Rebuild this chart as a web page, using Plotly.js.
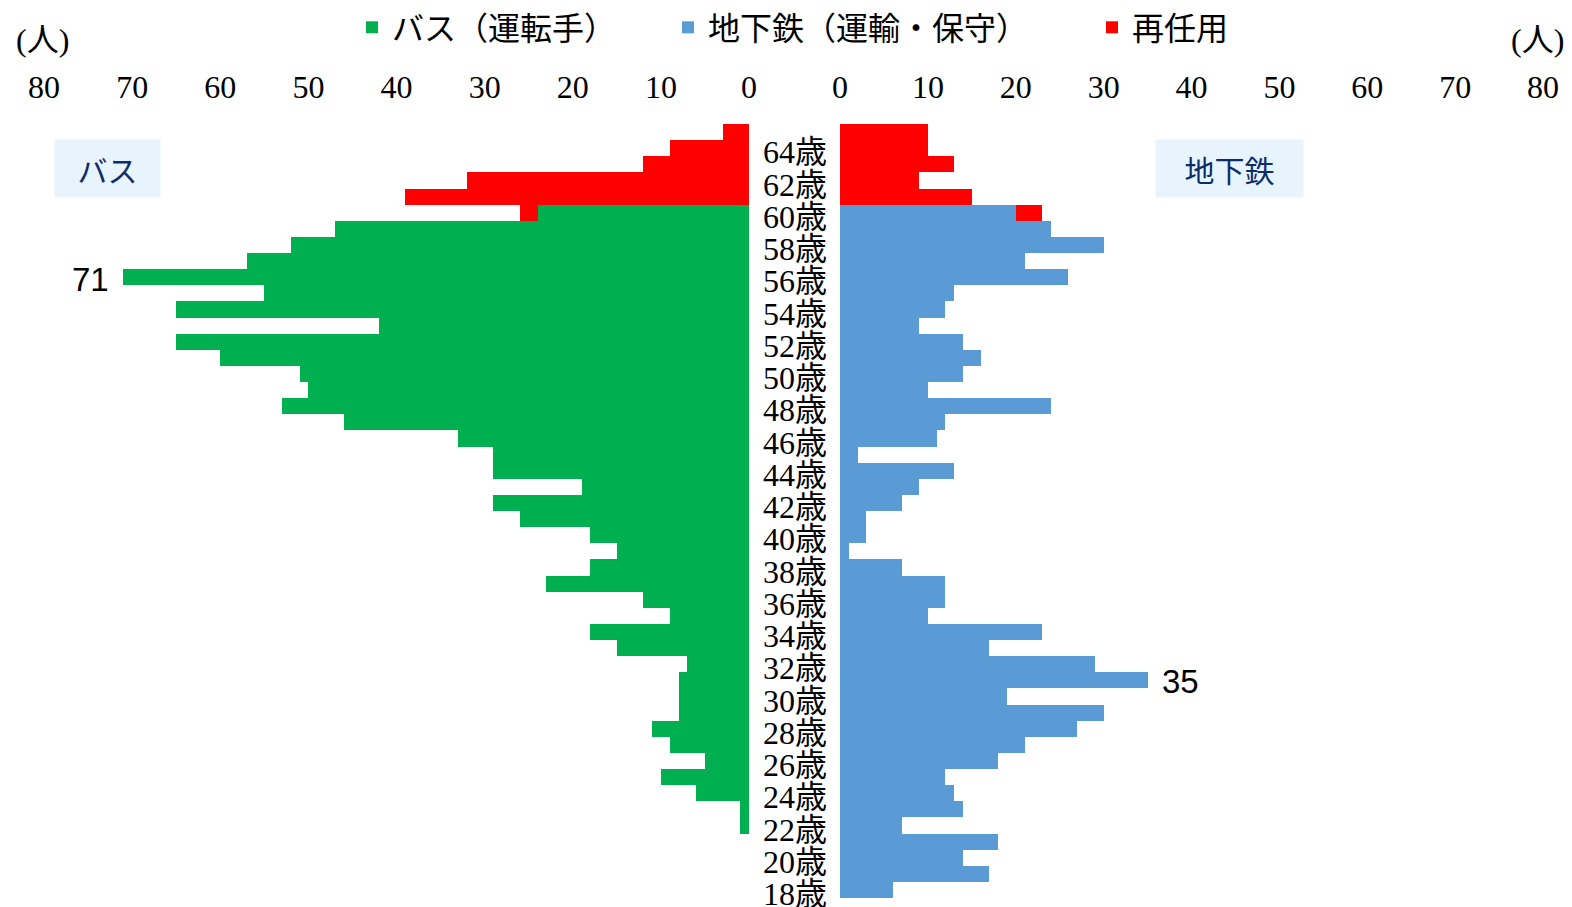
<!DOCTYPE html>
<html>
<head>
<meta charset="utf-8">
<script src="https://cdn.plot.ly/plotly-3.0.1.min.js"></script>
<style>
  html, body { margin: 0; padding: 0; background: #ffffff; }
  #chart { width: 1572px; height: 907px; }
</style>
</head>
<body>
<div id="chart"></div>
<script>
// Ages, top row first (65 down to 18)
const ages = [65, 64, 63, 62, 61, 60, 59, 58, 57, 56, 55, 54, 53, 52, 51, 50, 49, 48, 47, 46, 45, 44, 43, 42,
              41, 40, 39, 38, 37, 36, 35, 34, 33, 32, 31, 30, 29, 28, 27, 26, 25, 24, 23, 22, 21, 20, 19, 18];

// バス（運転手）
const busDrivers = [0, 0, 0, 0, 0, 24, 47, 52, 57, 71, 55, 65, 42, 65, 60, 51, 50, 53, 46, 33, 29, 29, 19, 29,
                    26, 18, 15, 18, 23, 12, 9, 18, 15, 7, 8, 8, 8, 11, 9, 5, 10, 6, 1, 1, 0, 0, 0, 0];
// 再任用（バス側）
const busRehired = [3, 9, 12, 32, 39, 2, 0, 0, 0, 0, 0, 0, 0, 0, 0, 0, 0, 0, 0, 0, 0, 0, 0, 0,
                    0, 0, 0, 0, 0, 0, 0, 0, 0, 0, 0, 0, 0, 0, 0, 0, 0, 0, 0, 0, 0, 0, 0, 0];
// 地下鉄（運輸・保守）
const subwayStaff = [0, 0, 0, 0, 0, 20, 24, 30, 21, 26, 13, 12, 9, 14, 16, 14, 10, 24, 12, 11, 2, 13, 9, 7,
                     3, 3, 1, 7, 12, 12, 10, 23, 17, 29, 35, 19, 30, 27, 21, 18, 12, 13, 14, 7, 18, 14, 17, 6];
// 再任用（地下鉄側）
const subwayRehired = [10, 10, 13, 9, 15, 3, 0, 0, 0, 0, 0, 0, 0, 0, 0, 0, 0, 0, 0, 0, 0, 0, 0, 0,
                       0, 0, 0, 0, 0, 0, 0, 0, 0, 0, 0, 0, 0, 0, 0, 0, 0, 0, 0, 0, 0, 0, 0, 0];

// Axis labels
const ageTickVals = [64, 62, 60, 58, 56, 54, 52, 50, 48, 46, 44, 42, 40, 38, 36, 34, 32, 30, 28, 26, 24, 22, 20, 18];
const ageTickText = ageTickVals.map(a => a + '歳');
const countTicks = [0, 10, 20, 30, 40, 50, 60, 70, 80];

const seriesNames = ['バス（運転手）', '地下鉄（運輸・保守）', '再任用'];
const colors = { bus: '#00B050', subway: '#5B9BD5', rehired: '#FF0000' };

const serifFont = '"Liberation Serif", "Noto Sans CJK JP", serif';
const cjkFont = '"Noto Sans CJK JP", sans-serif';
const numFont = '"Liberation Sans", sans-serif';

const W = 1572, H = 907;
const M = { l: 0, r: 0, t: 123.7, b: 8.7 };
const PH = H - M.t - M.b;
// convert a pixel position to paper coordinates
const py = v => (H - M.b - v) / PH;
const px = v => v / W;

const traces = [
  { type: 'bar', orientation: 'h', name: seriesNames[0], x: busDrivers, y: ages,
    xaxis: 'x', yaxis: 'y', marker: { color: colors.bus, line: { width: 0 } },
    legend: 'legend' },
  { type: 'bar', orientation: 'h', name: seriesNames[2], x: busRehired, y: ages,
    xaxis: 'x', yaxis: 'y', marker: { color: colors.rehired, line: { width: 0 } },
    legend: 'legend3', legendgroup: 'rehired' },
  { type: 'bar', orientation: 'h', name: seriesNames[1], x: subwayStaff, y: ages,
    xaxis: 'x2', yaxis: 'y', marker: { color: colors.subway, line: { width: 0 } },
    legend: 'legend2' },
  { type: 'bar', orientation: 'h', name: seriesNames[2], x: subwayRehired, y: ages,
    xaxis: 'x2', yaxis: 'y', marker: { color: colors.rehired, line: { width: 0 } },
    legend: 'legend3', legendgroup: 'rehired', showlegend: false }
];

const legendCommon = {
  orientation: 'h', yanchor: 'middle', xanchor: 'left',
  font: { family: serifFont, size: 32, color: '#000000' },
  bgcolor: 'rgba(0,0,0,0)', borderwidth: 0, itemwidth: 30
};

const tickFont = { family: serifFont, size: 32, color: '#000000' };

const layout = {
  width: W, height: H,
  margin: { l: M.l, r: M.r, t: M.t, b: M.b, pad: 0 },
  paper_bgcolor: '#ffffff', plot_bgcolor: '#ffffff',
  barmode: 'stack', bargap: 0,
  showlegend: true,
  legend: Object.assign({}, legendCommon, { x: px(352), y: py(27) }),
  legend2: Object.assign({}, legendCommon, { x: px(668), y: py(27) }),
  legend3: Object.assign({}, legendCommon, { x: px(1092), y: py(27) }),
  xaxis: {
    domain: [px(44), px(749)], range: [80, 0], side: 'top', anchor: 'y',
    tickvals: countTicks, ticktext: countTicks.map(String),
    showgrid: false, zeroline: false, showline: false, ticks: '',
    ticklabelstandoff: 19, ticklabeloverflow: 'allow',
    tickfont: tickFont, automargin: false
  },
  xaxis2: {
    domain: [px(840), px(1543)], range: [0, 80], side: 'top', anchor: 'y',
    tickvals: countTicks, ticktext: countTicks.map(String),
    showgrid: false, zeroline: false, showline: false, ticks: '',
    ticklabelstandoff: 19, ticklabeloverflow: 'allow',
    tickfont: tickFont, automargin: false
  },
  yaxis: {
    domain: [0, 1], range: [17.5, 65.5], anchor: 'x2', side: 'left',
    tickvals: ageTickVals, ticktext: ageTickText,
    showgrid: false, zeroline: false, showline: false, ticks: '',
    ticklabelstandoff: 12, ticklabelshift: 4, ticklabeloverflow: 'allow',
    tickfont: tickFont, automargin: false
  },
  annotations: [
    { xref: 'paper', yref: 'paper', x: px(42), y: py(40), xanchor: 'center', yanchor: 'middle',
      text: '(人)', showarrow: false, font: tickFont },
    { xref: 'paper', yref: 'paper', x: px(1537), y: py(40), xanchor: 'center', yanchor: 'middle',
      text: '(人)', showarrow: false, font: tickFont },
    { xref: 'paper', yref: 'paper', x: px(107.5), y: py(168.5), xanchor: 'center', yanchor: 'middle',
      text: 'バス', showarrow: false, width: 105, height: 57, borderpad: 0, bgcolor: '#E8F4FB',
      font: { family: cjkFont, size: 30, color: '#0D2C6C' } },
    { xref: 'paper', yref: 'paper', x: px(1229.5), y: py(168.5), xanchor: 'center', yanchor: 'middle',
      text: '地下鉄', showarrow: false, width: 147, height: 57, borderpad: 0, bgcolor: '#E8F4FB',
      font: { family: cjkFont, size: 30, color: '#0D2C6C' } },
    { xref: 'x', yref: 'y', x: busDrivers[ages.indexOf(56)], y: 56, xanchor: 'right', yanchor: 'middle',
      xshift: -12, yshift: -2, text: String(busDrivers[ages.indexOf(56)]), showarrow: false,
      font: { family: numFont, size: 33, color: '#000000' } },
    { xref: 'x2', yref: 'y', x: subwayStaff[ages.indexOf(31)], y: 31, xanchor: 'left', yanchor: 'middle',
      xshift: 12, yshift: -1, text: String(subwayStaff[ages.indexOf(31)]), showarrow: false,
      font: { family: numFont, size: 33, color: '#000000' } }
  ]
};

Plotly.newPlot('chart', traces, layout, { displayModeBar: false, staticPlot: true });
</script>
</body>
</html>
